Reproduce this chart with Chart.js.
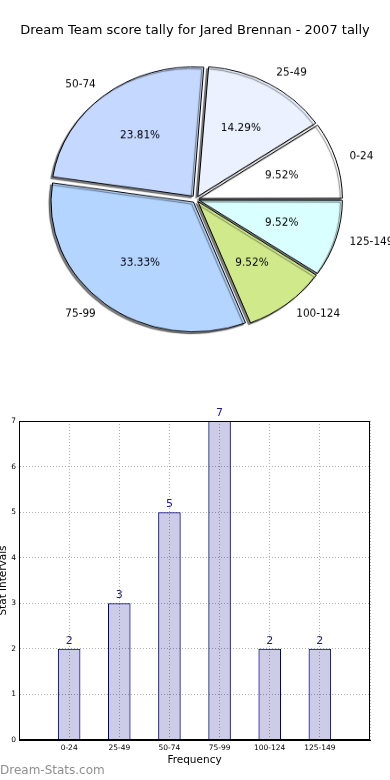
<!DOCTYPE html>
<html>
<head>
<meta charset="utf-8">
<title>Dream Team score tally</title>
<script src="https://cdn.jsdelivr.net/npm/chart.js@4.4.0/dist/chart.umd.min.js"></script>
<style>
  html, body { margin: 0; padding: 0; background: #fff; }
  body { width: 390px; height: 780px; position: relative; overflow: hidden; font-family: "DejaVu Sans", sans-serif; }
  #pieWrap { position: absolute; left: 0; top: 0; width: 390px; height: 400px; transform: scaleY(0.91); transform-origin: 0 0; }
  #title { position: absolute; left: 0; top: 23px; width: 390px; text-align: center; font-size: 13px; line-height: 13px; color: #000; }
  #barWrap { position: absolute; left: 0; top: 400px; width: 390px; height: 380px; }
  #watermark { position: absolute; left: 0; top: 763px; font-size: 12px; line-height: 14px; color: #8f8f8f; }
</style>
</head>
<body>
<div id="pieWrap"><canvas id="pieChart"></canvas></div>
<div id="title">Dream Team score tally for Jared Brennan - 2007 tally</div>
<div id="barWrap"><canvas id="barChart"></canvas></div>
<div id="watermark">Dream-Stats.com</div>
<script>
// Chart data
const categories = ["0-24", "25-49", "50-74", "75-99", "100-124", "125-149"];
const counts = [2, 3, 5, 7, 2, 2];
const yTicks = [0, 1, 2, 3, 4, 5, 6, 7];

const pieColors = ["#ffffff", "#ebf1ff", "#c5d8ff", "#b4d5ff", "#d0ea8b", "#daffff"];
const font = "DejaVu Sans";
const squash = 0.91; // the original pie is a bit flatter than wide
const explode = 4.5;

const total = counts.reduce((a, b) => a + b, 0);
const percents = counts.map((v) => ((v / total) * 100).toFixed(2) + "%");

// original goes counter-clockwise from 3 o'clock, Chart.js goes clockwise
const pieLabels = categories.slice().reverse();
const pieValues = counts.slice().reverse();
const piePercents = percents.slice().reverse();
const pieFill = pieColors.slice().reverse();

// text drawn upright inside the squashed pie canvas
function drawUpright(ctx, text, x, y, align) {
  ctx.save();
  ctx.translate(x, y);
  ctx.scale(1, 1 / squash);
  ctx.textAlign = align;
  ctx.fillText(text, 0, 0);
  ctx.restore();
}

const pieExtras = {
  id: "pieExtras",
  beforeDatasetsDraw(chart) {
    // shadow down-left of the slices
    const ctx = chart.ctx;
    ctx.save();
    ctx.shadowColor = "rgba(0, 0, 0, 0.5)";
    ctx.shadowOffsetX = -2;
    ctx.shadowOffsetY = 2;
    ctx.shadowBlur = 1;
  },
  afterDatasetsDraw(chart) {
    const ctx = chart.ctx;
    ctx.restore();
    const arcs = chart.getDatasetMeta(0).data;
    ctx.save();
    ctx.fillStyle = "#000";
    ctx.font = "10.5px '" + font + "'";
    ctx.textBaseline = "middle";
    arcs.forEach((arc, i) => {
      const mid = (arc.startAngle + arc.endAngle) / 2;
      const r = arc.outerRadius;
      const cos = Math.cos(mid);
      const sin = Math.sin(mid);
      const cx = arc.x + cos * explode;
      const cy = arc.y + sin * explode;
      drawUpright(ctx, piePercents[i], cx + cos * r * 0.6, cy + sin * r * 0.6, "center");
      drawUpright(ctx, pieLabels[i], cx + cos * r * 1.1, cy + sin * r * 1.1, cos > 0 ? "left" : "right");
    });
    ctx.restore();
  },
};

new Chart(document.getElementById("pieChart"), {
  type: "pie",
  data: {
    labels: pieLabels,
    datasets: [
      {
        data: pieValues,
        backgroundColor: pieFill,
        borderColor: "#000",
        borderWidth: 1,
        radius: 142,
        // Chart.js shifts by offset/4*(1+fix); undo that so every slice moves the same
        offset: (c) => {
          const circ = (c.raw / total) * Math.PI * 2;
          const fix = 1 - Math.sin(Math.min(Math.PI, circ));
          return (explode * 4) / (1 + fix);
        },
      },
    ],
  },
  options: {
    responsive: true,
    maintainAspectRatio: false,
    animation: false,
    rotation: 90,
    layout: { padding: { top: 38, left: 2, right: 0, bottom: 0 } },
    plugins: {
      legend: { display: false },
      tooltip: { enabled: false },
    },
  },
  plugins: [pieExtras],
});

// Bar chart: value labels and closed frame
const barExtras = {
  id: "barExtras",
  afterDatasetsDraw(chart) {
    const ctx = chart.ctx;
    const bars = chart.getDatasetMeta(0).data;
    ctx.save();
    ctx.fillStyle = "#1c1c8c";
    ctx.font = "11px '" + font + "'";
    ctx.textAlign = "center";
    ctx.textBaseline = "alphabetic";
    bars.forEach((bar, i) => {
      ctx.fillText(String(counts[i]), bar.x, bar.y - 5);
    });
    ctx.restore();
  },
  afterDraw(chart) {
    const { ctx, chartArea } = chart;
    ctx.save();
    ctx.strokeStyle = "#000";
    ctx.lineWidth = 1;
    const l = Math.round(chartArea.left) + 0.5;
    const t = Math.round(chartArea.top) + 0.5;
    const r = Math.round(chartArea.right) - 0.5;
    const b = Math.round(chartArea.bottom) - 0.5;
    ctx.strokeRect(l, t, r - l, b - t);
    ctx.restore();
  },
};

new Chart(document.getElementById("barChart"), {
  type: "bar",
  data: {
    datasets: [
      {
        data: counts.map((v, i) => ({ x: i, y: v })),
        backgroundColor: "rgba(0, 0, 128, 0.2)",
        borderColor: "#000080",
        borderWidth: 1,
        barPercentage: 0.45,
        categoryPercentage: 1,
      },
    ],
  },
  options: {
    responsive: true,
    maintainAspectRatio: false,
    animation: false,
    layout: { padding: { top: 21, right: 20, bottom: 0, left: 0 } },
    plugins: {
      legend: { display: false },
      tooltip: { enabled: false },
    },
    scales: {
      x: {
        type: "linear",
        min: -1,
        max: categories.length,
        offset: false,
        afterFit: (s) => {
          s.height = 40;
        },
        ticks: {
          stepSize: 1,
          autoSkip: false,
          maxRotation: 0,
          padding: 4,
          color: "#000",
          font: { family: font, size: 7.5 },
          callback: (v) => categories[v] ?? "",
        },
        grid: { color: "#b0b0b0", drawTicks: false, offset: false },
        border: { color: "#000", dash: [1, 2] },
        title: {
          display: true,
          text: "Frequency",
          color: "#000",
          font: { family: font, size: 10.5 },
          padding: { top: 0, bottom: 13 },
        },
      },
      y: {
        min: yTicks[0],
        max: yTicks[yTicks.length - 1],
        afterFit: (s) => {
          s.width = 19;
        },
        afterBuildTicks: (s) => {
          s.ticks = yTicks.map((v) => ({ value: v }));
        },
        ticks: {
          padding: 3,
          color: "#000",
          font: { family: font, size: 7.5 },
        },
        grid: { color: "#b0b0b0", drawTicks: false },
        border: { color: "#000", dash: [1, 2] },
        title: {
          display: true,
          text: "Stat intervals",
          color: "#000",
          font: { family: font, size: 10.5, lineHeight: 0.65 },
          padding: 0,
        },
      },
    },
  },
  plugins: [barExtras],
});
</script>
</body>
</html>
